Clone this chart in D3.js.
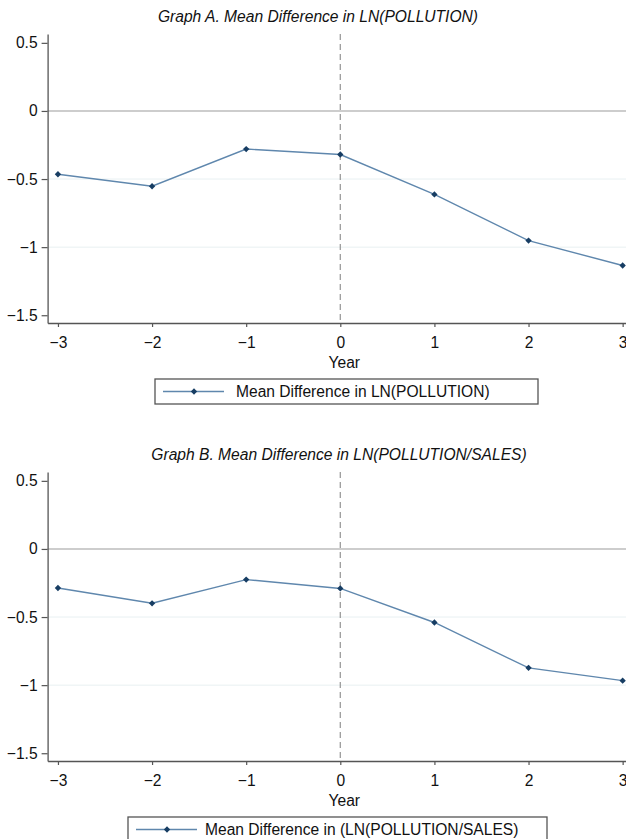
<!DOCTYPE html>
<html>
<head>
<meta charset="utf-8">
<script src="https://cdn.jsdelivr.net/npm/d3@7"></script>
<style>
  body { margin: 0; background: #fff; }
  svg { display: block; }
  text { font-family: "Liberation Sans", Arial, Helvetica, sans-serif; fill: #111; }
</style>
</head>
<body>
<div id="chart"></div>
<script>
var years = [-3, -2, -1, 0, 1, 2, 3]
var yTicks = [0.5, 0, -0.5, -1, -1.5]
var pollution = [-0.465, -0.553, -0.28, -0.32, -0.613, -0.952, -1.135]
var pollutionSales = [-0.287, -0.399, -0.225, -0.29, -0.54, -0.873, -0.967]

var panels = [
  {title: 'Graph A. Mean Difference in LN(POLLUTION)', values: pollution,
    legend: 'Mean Difference in LN(POLLUTION)', top: 0, titleX: 318, legendX: 155, legendW: 383, textX: 81},
  {title: 'Graph B. Mean Difference in LN(POLLUTION/SALES)', values: pollutionSales,
    legend: 'Mean Difference in (LN(POLLUTION/SALES)', top: 438, titleX: 339, legendX: 128, legendW: 419, textX: 77},
]

var width = 626, height = 839
var fs = 15.6
var lineColor = '#5f87ad', markColor = '#173d63'

var svg = d3.select('#chart').append('svg')
  .attr('width', width).attr('height', height)

// same scales for both panels, panel B is just shifted down
var x = d3.scaleLinear().domain([-3.11, 3.11]).range([47.6, 633])
var y = d3.scaleLinear().domain([0.565, -1.557]).range([34, 323])
// stata style diamond = square turned 45 deg
var diamond = d3.symbol().type(d3.symbolSquare).size(20)
var fmt = d => d3.format('')(d).replace('-', '\u2212')

panels.forEach(p => {
  var g = svg.append('g').attr('transform', `translate(0,${p.top})`)

  g.append('text').text(p.title)
    .attr('x', p.titleX).attr('y', 17).attr('dy', '0.35em')
    .attr('text-anchor', 'middle')
    .style('font-style', 'italic').style('font-size', fs + 'px')

  // faint grid at inner ticks
  g.append('g').selectAll('line').data([-0.5, -1]).join('line')
    .attr('x1', x.range()[0]).attr('x2', width)
    .attr('y1', d => y(d)).attr('y2', d => y(d))
    .attr('stroke', '#e8f0f2').attr('stroke-width', 1)

  g.append('line')
    .attr('x1', x.range()[0]).attr('x2', width)
    .attr('y1', y(0)).attr('y2', y(0))
    .attr('stroke', '#bdbdbd').attr('stroke-width', 1.6)

  g.append('line')
    .attr('x1', x(0)).attr('x2', x(0))
    .attr('y1', y.range()[0]).attr('y2', y.range()[1])
    .attr('stroke', '#9c9c9c').attr('stroke-width', 1.3)
    .attr('stroke-dasharray', '6,4')

  var yAxis = g.append('g').attr('transform', `translate(${x.range()[0]},0)`)
    .call(d3.axisLeft(y).tickValues(yTicks).tickSize(6).tickSizeOuter(0).tickPadding(4).tickFormat(fmt))
  var xAxis = g.append('g').attr('transform', `translate(0,${y.range()[1]})`)
    .call(d3.axisBottom(x).tickValues(years).tickSize(4).tickSizeOuter(0).tickPadding(10).tickFormat(fmt))

  ;[yAxis, xAxis].forEach(a => {
    a.select('.domain').attr('stroke', '#555').attr('stroke-width', 1.3)
    a.selectAll('.tick line').attr('stroke', '#555').attr('stroke-width', 1.2)
    a.selectAll('text').style('font-size', fs + 'px').attr('fill', '#111')
      .style('font-family', '"Liberation Sans", Arial, sans-serif')
  })

  g.append('text').text('Year')
    .attr('x', x(0) + 4).attr('y', 362.7).attr('dy', '0.35em')
    .attr('text-anchor', 'middle').style('font-size', fs + 'px')

  var pts = years.map((d, i) => [d, p.values[i]])
  g.append('path').datum(pts)
    .attr('d', d3.line().x(d => x(d[0])).y(d => y(d[1])))
    .attr('fill', 'none').attr('stroke', lineColor).attr('stroke-width', 1.4)

  g.append('g').selectAll('path').data(pts).join('path')
    .attr('transform', d => `translate(${x(d[0])},${y(d[1])}) rotate(45)`)
    .attr('d', diamond).attr('fill', markColor)

  // legend
  var lg = g.append('g').attr('transform', `translate(${p.legendX},379)`)
  lg.append('rect').attr('width', p.legendW).attr('height', 25)
    .attr('fill', '#fff').attr('stroke', '#555').attr('stroke-width', 1.3)
  lg.append('line').attr('x1', 8).attr('x2', 69).attr('y1', 12.5).attr('y2', 12.5)
    .attr('stroke', lineColor).attr('stroke-width', 1.4)
  lg.append('path').attr('transform', 'translate(39,12.5) rotate(45)').attr('d', diamond).attr('fill', markColor)
  lg.append('text').text(p.legend)
    .attr('x', p.textX).attr('y', 12.5).attr('dy', '0.35em')
    .style('font-size', fs + 'px')
})
</script>
</body>
</html>
